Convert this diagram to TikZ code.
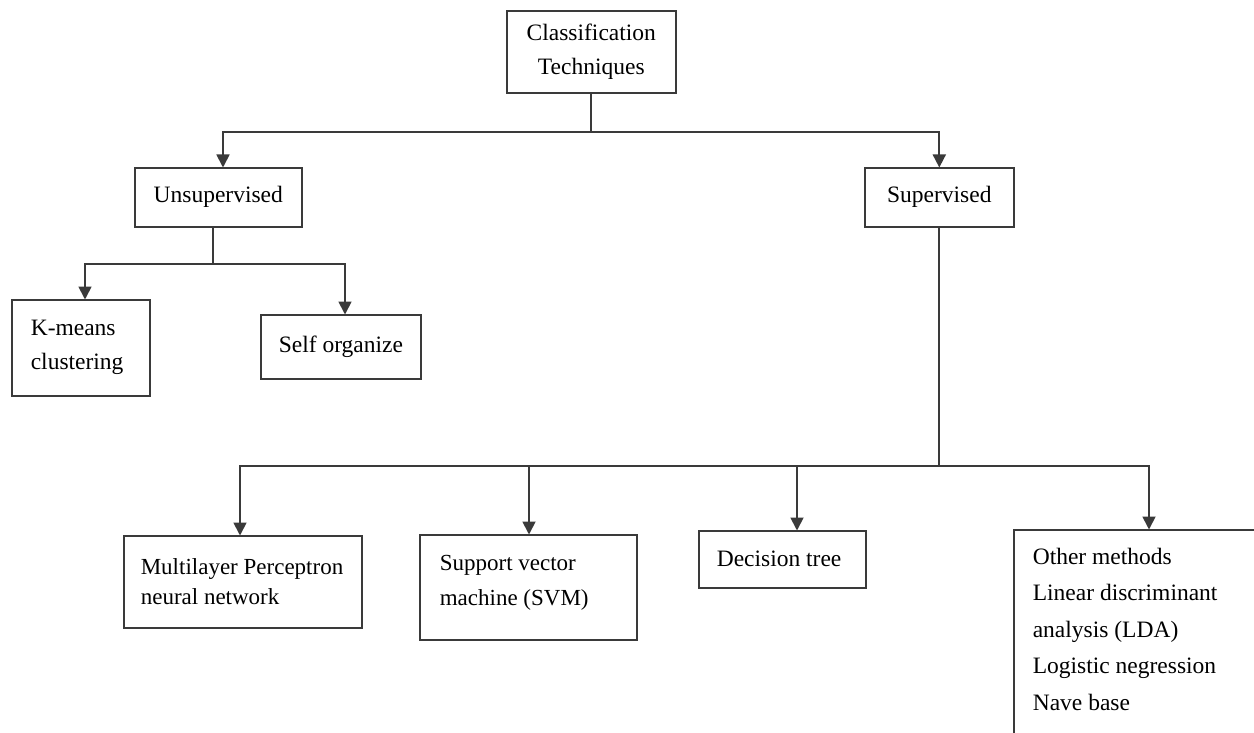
\documentclass[tikz,border=0pt]{standalone}
\usepackage{fontspec}
\setmainfont{Liberation Serif}
\usetikzlibrary{arrows.meta}
\definecolor{linecol}{HTML}{3A3A3A}
\tikzset{
  box/.style={draw=linecol, line width=1.6pt, inner sep=0pt, anchor=north west, font=\fontsize{23.5}{34}\selectfont},
  conn/.style={draw=linecol, line width=1.8pt},
  arr/.style={conn, -{Triangle[width=13pt,length=13pt]}, shorten >=-0.5pt},
}
\newcommand{\lbox}[3]{\hspace*{#1}\parbox{#2}{\raggedright #3}}
\begin{document}
\begin{tikzpicture}[x=1pt,y=-1pt]
\useasboundingbox (0,0) rectangle (1254,733);
% boxes
\node[box, minimum width=169pt, minimum height=82pt, align=center] (top) at (506,10) {Classification\\Techniques};
\node[box, minimum width=167pt, minimum height=59pt] (uns) at (134,167) {Unsupervised};
\node[box, minimum width=149pt, minimum height=59pt] (sup) at (864,167) {Supervised};
\node[box, minimum width=138pt, minimum height=96pt] (km) at (11,299) {\lbox{19pt}{119pt}{K-means\\clustering}};
\node[box, minimum width=160pt, minimum height=64pt] (so) at (260,314) {\lbox{18pt}{142pt}{Self organize}};
\node[box, minimum width=238pt, minimum height=92pt, font=\fontsize{23}{30}\selectfont] (mlp) at (123,535) {\lbox{17pt}{221pt}{Multilayer Perceptron\\neural network}\vphantom{\rule{0pt}{0pt}}};
\node[box, minimum width=217pt, minimum height=105pt, font=\fontsize{23}{35}\selectfont] (svm) at (419,534) {\lbox{20pt}{197pt}{Support vector\\machine (SVM)\\[8pt]}};
\node[box, minimum width=167pt, minimum height=57pt] (dt) at (698,530) {\lbox{18pt}{149pt}{Decision tree}};
\node[box, inner xsep=19pt, inner ysep=18pt] (oth) at (1013,529) {\parbox[t][230pt][t]{240pt}{\fontsize{23.5}{36.5}\selectfont\raggedright Other methods\\Linear discriminant\\analysis (LDA)\\Logistic negression\\Nave base}};
% junction coordinates
\coordinate (j1) at (top.south |- 0,132);
\coordinate (j2) at (213,264);
\coordinate (j3) at (sup.south |- 0,466);
% top level
\draw[conn] (top.south) -- (j1);
\draw[arr] (j1) -| (223,132) -- (uns.north -| 223,0);
\draw[arr] (j1) -| (sup.north);
% unsupervised
\draw[conn] (uns.south -| j2) -- (j2);
\draw[arr] (j2) -| (km.north -| 85,0);
\draw[arr] (j2) -| (so.north -| 345,0);
% supervised
\draw[conn] (sup.south) -- (j3);
\draw[arr] (j3) -| (mlp.north -| 240,0);
\draw[arr] (j3) -| (svm.north -| 529,0);
\draw[arr] (j3) -| (dt.north -| 797,0);
\draw[arr] (j3) -| (oth.north -| 1149,0);
\end{tikzpicture}
\end{document}
